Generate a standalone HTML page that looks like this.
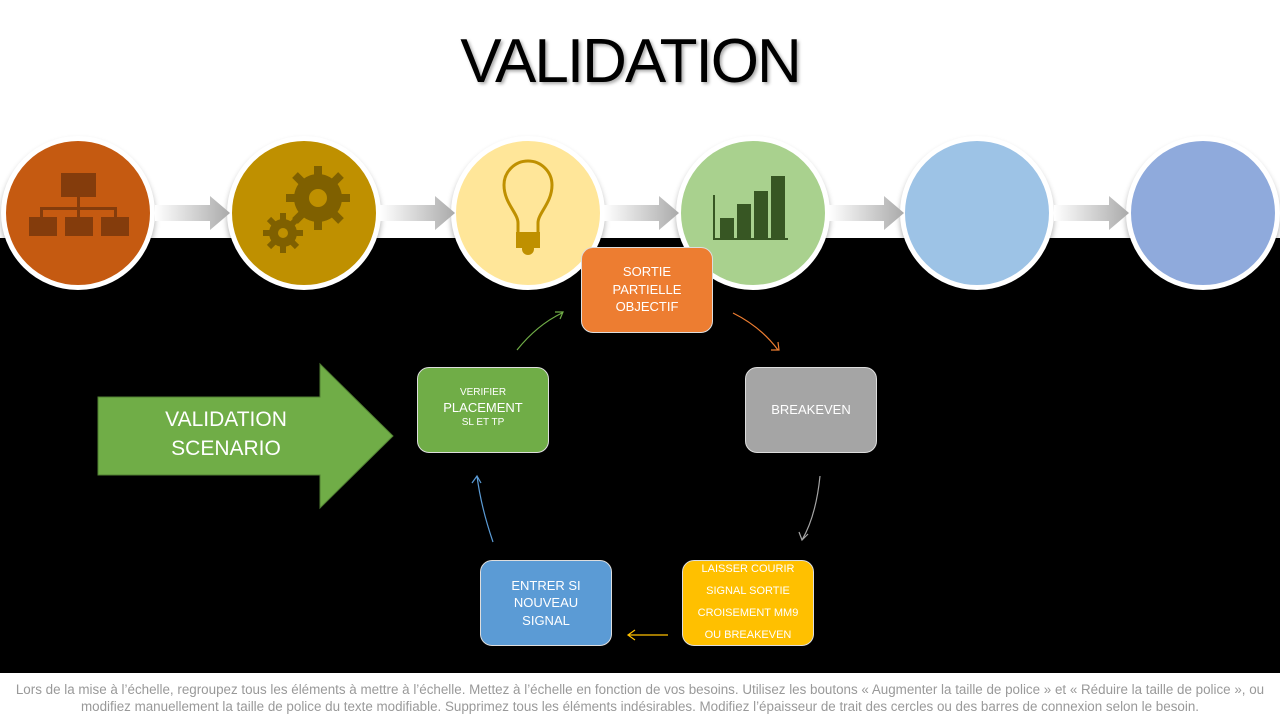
<!DOCTYPE html>
<html><head><meta charset="utf-8"><style>
body{margin:0;width:1280px;height:720px;position:relative;background:#fff;font-family:"Liberation Sans",sans-serif;overflow:hidden}
.t{position:absolute;left:-10px;width:1280px;top:26px;text-align:center;font-size:62px;letter-spacing:-2px;color:#000;text-shadow:2px 2px 3px #aaa}
.band{position:absolute;left:0;top:238px;width:1280px;height:435px;background:#000}
.c{position:absolute;width:144px;height:144px;border-radius:50%;border:5px solid #fff;top:136px;box-shadow:0 4px 6px rgba(0,0,0,.3)}
.b{position:absolute;width:130px;height:84px;border:1px solid #ddd;border-radius:12px;color:#fff;display:flex;flex-direction:column;align-items:center;justify-content:center;text-align:center;font-size:14px;line-height:18px}
.f{position:absolute;left:0;width:1280px;top:681px;text-align:center;color:#999;font-size:13.4px;line-height:17px;white-space:nowrap}
</style></head><body>
<div class="t">VALIDATION</div>
<div class="band"></div>
<div class="c" style="left:1px;background:#c55a11"></div>
<div class="c" style="left:227px;background:#bf9000"></div>
<div class="c" style="left:451px;background:#ffe699"></div>
<div class="c" style="left:676px;background:#a9d18e"></div>
<div class="c" style="left:900px;background:#9dc3e6"></div>
<div class="c" style="left:1126px;background:#8faadc"></div>
<svg width="1280" height="720" style="position:absolute;left:0;top:0">
<defs><linearGradient id="g" x1="0" x2="1"><stop offset="0" stop-color="#fff"/><stop offset="1" stop-color="#aaa"/></linearGradient></defs>
<g fill="url(#g)">
<path d="M155 205h55v-9l20 17-20 17v-9h-55z"/>
<path d="M380 205h55v-9l20 17-20 17v-9h-55z"/>
<path d="M604 205h55v-9l20 17-20 17v-9h-55z"/>
<path d="M829 205h55v-9l20 17-20 17v-9h-55z"/>
<path d="M1054 205h55v-9l20 17-20 17v-9h-55z"/>
</g>
<g fill="#843c0c"><rect x="61" y="173" width="35" height="24"/><rect x="29" y="217" width="28" height="19"/><rect x="65" y="217" width="28" height="19"/><rect x="101" y="217" width="28" height="19"/>
<path d="M77 197h3v10h37v10h-3v-7h-34v7h-3v-7h-34v7h-3v-10h37z"/></g>
<g fill="#7f6000"><circle cx="318" cy="198" r="24"/><circle cx="283" cy="233" r="14"/>
<g stroke="#7f6000" stroke-width="8"><path d="M318 166v64M286 198h64M295 175l46 46M341 175l-46 46"/><path d="M283 213v40M263 233h40M269 219l28 28M297 219l-28 28" stroke-width="6"/></g>
<circle cx="318" cy="198" r="9" fill="#bf9000"/><circle cx="283" cy="233" r="5" fill="#bf9000"/></g>
<path d="M518 235v-12c0-10-14-20-14-38a24 24 0 0 1 48 0c0 18-14 28-14 38v12" fill="none" stroke="#bf9000" stroke-width="3"/>
<rect x="516" y="232" width="24" height="16" fill="#bf9000"/><circle cx="528" cy="249" r="6" fill="#bf9000"/>
<g fill="#375623"><rect x="720" y="218" width="14" height="20"/><rect x="737" y="204" width="14" height="34"/><rect x="754" y="191" width="14" height="47"/><rect x="771" y="176" width="14" height="62"/><rect x="713" y="195" width="2" height="45"/><rect x="713" y="238" width="75" height="2"/></g>
<path d="M98 397h222v-33l73 72-73 72v-33h-222z" fill="#70ad47" stroke="#507e32"/>
<g fill="none" stroke-width="1.2">
<path d="M517 350q20-25 45-37M555 312l8 0-3 7" stroke="#70ad47"/>
<path d="M733 313q28 14 45 37M771 350l8 0-1-8" stroke="#ed7d31"/>
<path d="M820 476q-4 40-18 64M799 532l3 8 6-6" stroke="#a5a5a5"/>
<path d="M668 635h-40M635 630l-7 5 7 5" stroke="#ffc000"/>
<path d="M493 542q-12-35-16-66M472 483l5-7 4 7" stroke="#5b9bd5"/>
</g>
</svg>
<div style="position:absolute;left:98px;top:405px;width:256px;text-align:center;color:#fff;font-size:21px;line-height:29px">VALIDATION<br>SCENARIO</div>
<div class="b" style="left:581px;top:247px;background:#ed7d31;justify-content:flex-start"><div style="margin-top:15px;line-height:17.5px;font-size:13px">SORTIE<br>PARTIELLE<br>OBJECTIF</div></div>
<div class="b" style="left:417px;top:367px;background:#70ad47;justify-content:flex-start"><div style="margin-top:18px;font-size:10px;line-height:13px">VERIFIER</div><div style="font-size:13px;line-height:17px">PLACEMENT</div><div style="font-size:10px;line-height:13px">SL ET TP</div></div>
<div class="b" style="left:745px;top:367px;background:#a5a5a5;font-size:13px">BREAKEVEN</div>
<div class="b" style="left:480px;top:560px;background:#5b9bd5;font-size:13px;line-height:17.5px">ENTRER SI<br>NOUVEAU<br>SIGNAL</div>
<div class="b" style="left:682px;top:560px;background:#ffc000;font-size:11px;line-height:22px;justify-content:flex-start"><div style="margin-top:-3px">LAISSER COURIR<br>SIGNAL SORTIE<br>CROISEMENT MM9<br>OU BREAKEVEN</div></div>
<div class="f">Lors de la mise à l’échelle, regroupez tous les éléments à mettre à l’échelle. Mettez à l’échelle en fonction de vos besoins. Utilisez les boutons « Augmenter la taille de police » et « Réduire la taille de police », ou<br>modifiez manuellement la taille de police du texte modifiable. Supprimez tous les éléments indésirables. Modifiez l’épaisseur de trait des cercles ou des barres de connexion selon le besoin.</div>
</body></html>
